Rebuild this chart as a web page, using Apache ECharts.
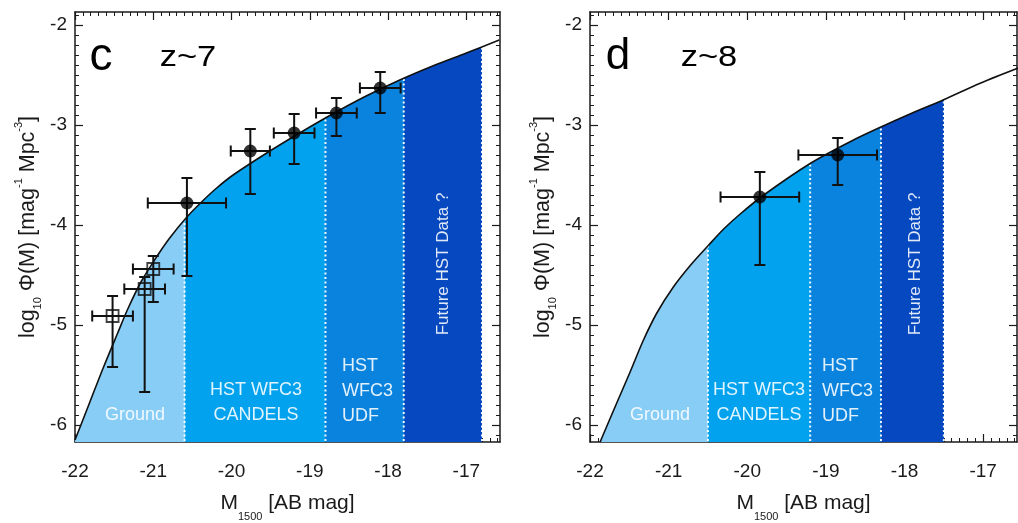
<!DOCTYPE html>
<html><head><meta charset="utf-8">
<script src="https://cdn.jsdelivr.net/npm/echarts@6/dist/echarts.min.js"></script>
<style>html,body{margin:0;padding:0;background:#fff}#c{width:1018px;height:523px}</style>
</head><body><div id="c"></div>
<script>
// ---------- axes ----------
const xTicks = [-22, -21, -20, -19, -18, -17];
const yTicks = [-6, -5, -4, -3, -2];
const X_MIN = -22, X_MAX = -16.57, Y_MIN = -6.17, Y_MAX = -1.87;

// ---------- panel c : z~7 ----------
const c7CurveM   = [-22.00,-21.81,-21.64,-21.46,-21.32,-21.15,-20.95,-20.79,-20.57,-20.37,-20.19,-19.98,-19.55,-19.13,-18.71,-18.28,-17.85,-17.43,-17.00,-16.58];
const c7CurvePhi = [-6.15,-5.77,-5.43,-5.09,-4.83,-4.56,-4.31,-4.13,-3.92,-3.76,-3.63,-3.50,-3.28,-3.08,-2.89,-2.71,-2.55,-2.41,-2.28,-2.15];
const c7BandEdges = [-22, -20.6, -18.8, -17.8, -16.8];
const c7EdgeTops  = [null, -3.93, -2.91, -2.54, -2.23];
const c7PtM   = [-20.57, -19.76, -19.20, -18.66, -18.10];
const c7PtPhi = [-3.78, -3.26, -3.08, -2.88, -2.63];
const c7PtMerr = [0.50, 0.25, 0.26, 0.26, 0.26];
const c7PtHi  = [-3.53, -3.04, -2.89, -2.73, -2.47];
const c7PtLo  = [-4.51, -3.69, -3.39, -3.11, -2.88];
const c7GrM   = [-21.52, -21.11, -21.00];
const c7GrPhi = [-4.91, -4.64, -4.44];
const c7GrMerr = [0.26, 0.26, 0.26];
const c7GrHi  = [-4.71, -4.52, -4.31];
const c7GrLo  = [-5.42, -5.67, -4.77];

// ---------- panel d : z~8 ----------
const c8CurveM   = [-21.87,-21.85,-21.66,-21.49,-21.32,-21.15,-20.94,-20.72,-20.49,-20.30,-20.09,-19.79,-19.19,-18.65,-18.30,-17.96,-17.51,-17.03,-16.55];
const c8CurvePhi = [-6.17,-6.13,-5.78,-5.47,-5.15,-4.88,-4.62,-4.40,-4.20,-4.04,-3.89,-3.70,-3.38,-3.15,-3.02,-2.90,-2.75,-2.58,-2.43];
const c8BandEdges = [-22, -20.5, -19.2, -18.3, -17.5];
const c8EdgeTops  = [null, -4.21, -3.38, -3.01, -2.75];
const c8PtM   = [-19.84, -18.85];
const c8PtPhi = [-3.72, -3.30];
const c8PtMerr = [0.50, 0.50];
const c8PtHi  = [-3.47, -3.13];
const c8PtLo  = [-4.40, -3.60];

const bandColors = ['#88cdf6', '#02a2ee', '#0983dd', '#0548bf'];
const FONT = '"Liberation Sans", Arial, Helvetica, sans-serif';
const INK = '#1a1a1a';

function zip(a, b) { return a.map((v, i) => [v, b[i]]); }
function minorVals(lo, hi) {
  const out = [];
  for (let k = Math.ceil(lo * 10); k <= Math.floor(hi * 10); k++) {
    if (k % 10 !== 0) out.push(k / 10);
  }
  return out;
}
const xMinor = minorVals(X_MIN, X_MAX);
const yMinor = minorVals(Y_MIN, Y_MAX);

const grids = [
  { left: 75, top: 12, width: 425, height: 430, containLabel: false, outerBoundsMode: 'none' },
  { left: 590, top: 12, width: 427, height: 430, containLabel: false, outerBoundsMode: 'none' }
];

const xAxes = [], yAxes = [];
const axisLine = { show: true, onZero: false, lineStyle: { color: INK, width: 1.5 } };
const noLine = { show: false, onZero: false };
grids.forEach((g, gi) => {
  const base = { gridIndex: gi, type: 'value', min: X_MIN, max: X_MAX, splitLine: { show: false } };
  xAxes.push(Object.assign({}, base, {
    position: 'bottom', axisLine,
    axisTick: { show: true, inside: true, length: 8, customValues: xTicks, lineStyle: { color: INK, width: 1.2 } },
    axisLabel: { show: true, customValues: xTicks, margin: 20, fontSize: 19, color: INK, fontFamily: FONT },
    name: '{t|M}{s|1500}{t| [AB mag]}', nameLocation: 'middle', nameGap: 42,
    nameTextStyle: { rich: {
      t: { fontSize: 21, fontFamily: FONT, color: INK, lineHeight: 38, verticalAlign: 'middle' },
      s: { fontSize: 11, fontFamily: FONT, color: INK, lineHeight: 11, verticalAlign: 'bottom' }
    } }
  }));
  xAxes.push(Object.assign({}, base, {
    position: 'top', axisLine,
    axisTick: { show: true, inside: true, length: 8, customValues: xTicks, lineStyle: { color: INK, width: 1.2 } },
    axisLabel: { show: false }
  }));
  xAxes.push(Object.assign({}, base, {
    position: 'bottom', axisLine: noLine,
    axisTick: { show: true, inside: true, length: 4, customValues: xMinor, lineStyle: { color: INK, width: 1 } },
    axisLabel: { show: false }
  }));
  xAxes.push(Object.assign({}, base, {
    position: 'top', axisLine: noLine,
    axisTick: { show: true, inside: true, length: 4, customValues: xMinor, lineStyle: { color: INK, width: 1 } },
    axisLabel: { show: false }
  }));
  const ybase = { gridIndex: gi, type: 'value', min: Y_MIN, max: Y_MAX, splitLine: { show: false } };
  yAxes.push(Object.assign({}, ybase, {
    position: 'left', axisLine,
    axisTick: { show: true, inside: true, length: 8, customValues: yTicks, lineStyle: { color: INK, width: 1.2 } },
    axisLabel: { show: true, customValues: yTicks, margin: 8, fontSize: 19, color: INK, fontFamily: FONT },
    name: '{t|log}{s|10}{t| Φ(M) [mag}{p|-1}{t| Mpc}{p|-3}{t|]}', nameLocation: 'middle', nameGap: 32, nameRotate: 90,
    nameTextStyle: { rich: {
      t: { fontSize: 21.5, fontFamily: FONT, color: INK, lineHeight: 30, verticalAlign: 'middle' },
      s: { fontSize: 11, fontFamily: FONT, color: INK, lineHeight: 11, verticalAlign: 'bottom' },
      p: { fontSize: 11, fontFamily: FONT, color: INK, lineHeight: 15, verticalAlign: 'top' }
    } }
  }));
  yAxes.push(Object.assign({}, ybase, {
    position: 'right', axisLine,
    axisTick: { show: true, inside: true, length: 8, customValues: yTicks, lineStyle: { color: INK, width: 1.2 } },
    axisLabel: { show: false }
  }));
  yAxes.push(Object.assign({}, ybase, {
    position: 'left', axisLine: noLine,
    axisTick: { show: true, inside: true, length: 4, customValues: yMinor, lineStyle: { color: INK, width: 1 } },
    axisLabel: { show: false }
  }));
  yAxes.push(Object.assign({}, ybase, {
    position: 'right', axisLine: noLine,
    axisTick: { show: true, inside: true, length: 4, customValues: yMinor, lineStyle: { color: INK, width: 1 } },
    axisLabel: { show: false }
  }));
});

function errRender(params, api) {
  const x = api.value(0), y = api.value(1), xe = api.value(2), hi = api.value(3), lo = api.value(4);
  const l = api.coord([x - xe, y]), r = api.coord([x + xe, y]);
  const t = api.coord([x, hi]), b = api.coord([x, lo]);
  const c = 5.5;
  const st = { stroke: '#111', lineWidth: 2 };
  const L = (x1, y1, x2, y2) => ({ type: 'line', shape: { x1, y1, x2, y2 }, style: st });
  return { type: 'group', children: [
    L(l[0], l[1], r[0], r[1]), L(t[0], t[1], b[0], b[1]),
    L(l[0], l[1] - c, l[0], l[1] + c), L(r[0], r[1] - c, r[0], r[1] + c),
    L(t[0] - c, t[1], t[0] + c, t[1]), L(b[0] - c, b[1], b[0] + c, b[1])
  ] };
}
function edgeRender(params, api) {
  const x = api.value(0), top = api.value(1);
  const p0 = api.coord([x, Y_MIN]), p1 = api.coord([x, top]);
  return { type: 'line', shape: { x1: p0[0], y1: p0[1] - 1, x2: p1[0], y2: p1[1] },
    style: { stroke: 'rgba(255,255,255,0.95)', lineWidth: 2, lineDash: [2, 2.5] } };
}

const series = [];
const visualMaps = [];
function addPanel(gi, cm, cp, edges, tops, pts, grd) {
  const xi = gi * 4, yi = gi * 4;
  const curve = zip(cm, cp);
  visualMaps.push({
    type: 'piecewise', show: false, dimension: 0, seriesIndex: series.length,
    pieces: edges.slice(0, -1).map((e, i) => ({ gte: e, lt: edges[i + 1], color: bandColors[i] })),
    outOfRange: { color: 'rgba(255,255,255,0)' }
  });
  series.push({ type: 'line', xAxisIndex: xi, yAxisIndex: yi, data: curve, smooth: 0.3, showSymbol: false,
    silent: true, z: 1, lineStyle: { width: 0 }, areaStyle: { opacity: 1, origin: 'start' } });
  series.push({ type: 'custom', xAxisIndex: xi, yAxisIndex: yi, z: 2, silent: true,
    data: edges.slice(1).map((e, i) => [e, tops[i + 1]]), renderItem: edgeRender });
  series.push({ type: 'line', xAxisIndex: xi, yAxisIndex: yi, data: curve, smooth: 0.3, showSymbol: false,
    silent: true, z: 3, lineStyle: { width: 1.6, color: '#111' } });
  const errData = pts.m.map((m, i) => [m, pts.p[i], pts.e[i], pts.hi[i], pts.lo[i]]);
  if (grd) grd.m.forEach((m, i) => errData.push([m, grd.p[i], grd.e[i], grd.hi[i], grd.lo[i]]));
  series.push({ type: 'custom', xAxisIndex: xi, yAxisIndex: yi, z: 4, silent: true, data: errData, renderItem: errRender });
  if (grd) series.push({ type: 'scatter', xAxisIndex: xi, yAxisIndex: yi, z: 5, silent: true,
    data: zip(grd.m, grd.p), symbol: 'rect', symbolSize: 12,
    itemStyle: { color: 'rgba(0,0,0,0)', borderColor: '#111', borderWidth: 1.8 } });
  series.push({ type: 'scatter', xAxisIndex: xi, yAxisIndex: yi, z: 5, silent: true,
    data: zip(pts.m, pts.p), symbol: 'circle', symbolSize: 13, itemStyle: { color: '#000' } });
}
addPanel(0, c7CurveM, c7CurvePhi, c7BandEdges, c7EdgeTops,
  { m: c7PtM, p: c7PtPhi, e: c7PtMerr, hi: c7PtHi, lo: c7PtLo },
  { m: c7GrM, p: c7GrPhi, e: c7GrMerr, hi: c7GrHi, lo: c7GrLo });
addPanel(1, c8CurveM, c8CurvePhi, c8BandEdges, c8EdgeTops,
  { m: c8PtM, p: c8PtPhi, e: c8PtMerr, hi: c8PtHi, lo: c8PtLo }, null);

const W = 'rgba(255,255,255,0.88)';
function txt(x, y, s, size, color, opts) {
  return Object.assign({ type: 'text', x, y, silent: true, z: 20,
    style: Object.assign({ text: s, fill: color, font: size + 'px ' + FONT, align: 'center', verticalAlign: 'middle' }, opts || {}) });
}
function panelTexts(dx, o) {
  return [
    txt(dx + o.g, 415, 'Ground', 18, W),
    txt(dx + o.c, 390, 'HST WFC3', 18, W),
    txt(dx + o.c, 415, 'CANDELS', 18, W),
    txt(dx + o.u, 366, 'HST', 18, W, { align: 'left' }),
    txt(dx + o.u, 391, 'WFC3', 18, W, { align: 'left' }),
    txt(dx + o.u, 416, 'UDF', 18, W, { align: 'left' }),
    Object.assign(txt(dx + o.f, 264, 'Future HST Data ?', 17, W), { rotation: Math.PI / 2 })
  ];
}
const graphics = [
  txt(101, 57, 'c', 46, '#000'),
  Object.assign(txt(188, 58, 'z~7', 30, '#000'), { scaleX: 1.15 }),
  txt(618, 57, 'd', 44, '#000'),
  Object.assign(txt(709, 58, 'z~8', 30, '#000'), { scaleX: 1.15 })
].concat(panelTexts(0, { g: 135, c: 256, u: 342, f: 443 }))
 .concat(panelTexts(0, { g: 660, c: 759, u: 822, f: 915 }));

const chart = echarts.init(document.getElementById('c'), null, { renderer: 'canvas' });
chart.setOption({
  animation: false,
  backgroundColor: '#fff',
  grid: grids,
  xAxis: xAxes,
  yAxis: yAxes,
  visualMap: visualMaps,
  series,
  graphic: graphics
});
</script></body></html>
